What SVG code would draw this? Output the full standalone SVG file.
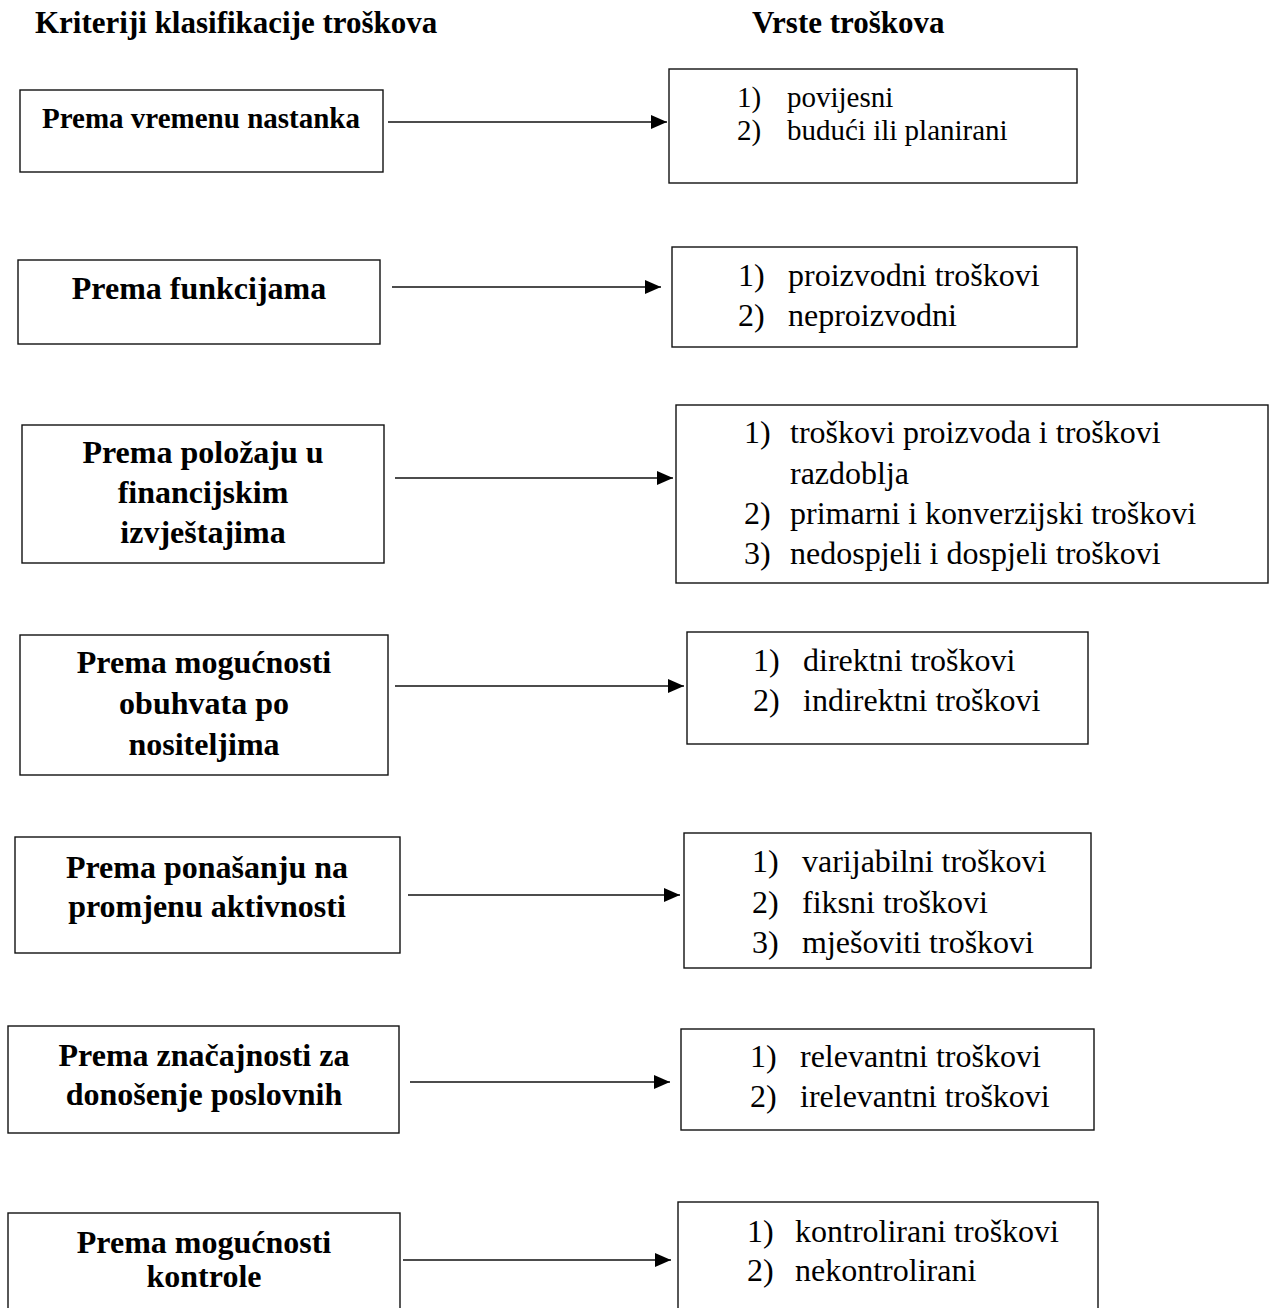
<svg xmlns="http://www.w3.org/2000/svg" width="1269" height="1308" viewBox="0 0 1269 1308">
<style>
text{font-family:"Liberation Serif","Times New Roman",serif;fill:#000}
.h{font-weight:bold;font-size:31px}
.c{font-weight:bold;font-size:32px;text-anchor:middle}
.c1{font-weight:bold;font-size:29px;text-anchor:middle}
.t{font-size:32px}
.t1{font-size:29px}
.box{fill:#fff;stroke:#111;stroke-width:1.4}
.con{stroke:#111;stroke-width:1.4;fill:none;marker-end:url(#ah)}
</style>
<defs>
<marker id="ah" markerUnits="userSpaceOnUse" markerWidth="18" markerHeight="16" refX="17" refY="8" orient="auto">
<path d="M1,1 L17,8 L1,15 Z" fill="#000"/>
</marker>
</defs>
<rect width="1269" height="1308" fill="#fff"/>
<g id="headers">
<text class="h" x="35" y="33">Kriteriji klasifikacije troškova</text>
<text class="h" x="752" y="33">Vrste troškova</text>
</g>
<g id="connectors">
<line class="con" x1="388" y1="122" x2="667" y2="122"/>
<line class="con" x1="392" y1="287" x2="661" y2="287"/>
<line class="con" x1="395" y1="478" x2="673" y2="478"/>
<line class="con" x1="395" y1="686" x2="684" y2="686"/>
<line class="con" x1="408" y1="895" x2="680" y2="895"/>
<line class="con" x1="410" y1="1082" x2="670" y2="1082"/>
<line class="con" x1="403" y1="1260" x2="671" y2="1260"/>
</g>
<g id="c1"><rect class="box" x="20" y="90" width="363" height="82"/>
<text class="c1" x="201" y="128">Prema vremenu nastanka</text></g>
<g id="v1"><rect class="box" x="669" y="69" width="408" height="114"/>
<text class="t1" x="737" y="107">1)</text><text class="t1" x="787" y="107">povijesni</text>
<text class="t1" x="737" y="140">2)</text><text class="t1" x="787" y="140">budući ili planirani</text></g>
<g id="c2"><rect class="box" x="18" y="260" width="362" height="84"/>
<text class="c" x="199" y="299">Prema funkcijama</text></g>
<g id="v2"><rect class="box" x="672" y="247" width="405" height="100"/>
<text class="t" x="738" y="286">1)</text><text class="t" x="788" y="286">proizvodni troškovi</text>
<text class="t" x="738" y="326">2)</text><text class="t" x="788" y="326">neproizvodni</text></g>
<g id="c3"><rect class="box" x="22" y="425" width="362" height="138"/>
<text class="c" x="203" y="463">Prema položaju u</text>
<text class="c" x="203" y="503">financijskim</text>
<text class="c" x="203" y="543">izvještajima</text></g>
<g id="v3"><rect class="box" x="676" y="405" width="592" height="178"/>
<text class="t" x="744" y="443">1)</text><text class="t" x="790" y="443">troškovi proizvoda i troškovi</text>
<text class="t" x="790" y="484">razdoblja</text>
<text class="t" x="744" y="524">2)</text><text class="t" x="790" y="524">primarni i konverzijski troškovi</text>
<text class="t" x="744" y="564">3)</text><text class="t" x="790" y="564">nedospjeli i dospjeli troškovi</text></g>
<g id="c4"><rect class="box" x="20" y="635" width="368" height="140"/>
<text class="c" x="204" y="673">Prema mogućnosti</text>
<text class="c" x="204" y="714">obuhvata po</text>
<text class="c" x="204" y="755">nositeljima</text></g>
<g id="v4"><rect class="box" x="687" y="632" width="401" height="112"/>
<text class="t" x="753" y="671">1)</text><text class="t" x="803" y="671">direktni troškovi</text>
<text class="t" x="753" y="711">2)</text><text class="t" x="803" y="711">indirektni troškovi</text></g>
<g id="c5"><rect class="box" x="15" y="837" width="385" height="116"/>
<text class="c" x="207" y="878">Prema ponašanju na</text>
<text class="c" x="207" y="917">promjenu aktivnosti</text></g>
<g id="v5"><rect class="box" x="684" y="833" width="407" height="135"/>
<text class="t" x="752" y="872">1)</text><text class="t" x="802" y="872">varijabilni troškovi</text>
<text class="t" x="752" y="913">2)</text><text class="t" x="802" y="913">fiksni troškovi</text>
<text class="t" x="752" y="953">3)</text><text class="t" x="802" y="953">mješoviti troškovi</text></g>
<g id="c6"><rect class="box" x="8" y="1026" width="391" height="107"/>
<text class="c" x="204" y="1066">Prema značajnosti za</text>
<text class="c" x="204" y="1105">donošenje poslovnih</text></g>
<g id="v6"><rect class="box" x="681" y="1029" width="413" height="101"/>
<text class="t" x="750" y="1067">1)</text><text class="t" x="800" y="1067">relevantni troškovi</text>
<text class="t" x="750" y="1107">2)</text><text class="t" x="800" y="1107">irelevantni troškovi</text></g>
<g id="c7"><rect class="box" x="8" y="1213" width="392" height="120"/>
<text class="c" x="204" y="1253">Prema mogućnosti</text>
<text class="c" x="204" y="1287">kontrole</text></g>
<g id="v7"><rect class="box" x="678" y="1202" width="420" height="130"/>
<text class="t" x="747" y="1242">1)</text><text class="t" x="795" y="1242">kontrolirani troškovi</text>
<text class="t" x="747" y="1281">2)</text><text class="t" x="795" y="1281">nekontrolirani</text></g>
</svg>
